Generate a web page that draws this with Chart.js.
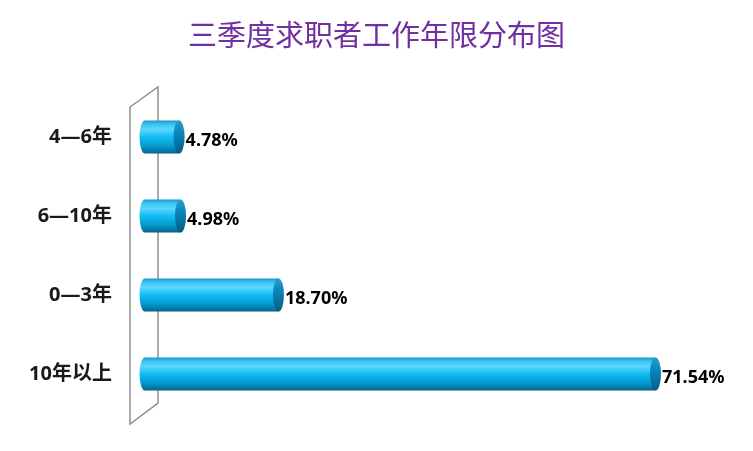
<!DOCTYPE html>
<html><head><meta charset="utf-8">
<script src="https://cdn.jsdelivr.net/npm/chart.js@4/dist/chart.umd.min.js"></script>
<style>html,body{margin:0;padding:0;background:#fff;}#wrap{width:753px;height:451px;}</style>
</head><body><div id="wrap"><canvas id="c" width="753" height="451"></canvas></div>
<script>
const categories = ['4—6年', '6—10年', '0—3年', '10年以上'];
const values = [4.78, 4.98, 18.70, 71.54];
const valueLabels = ['4.78%', '4.98%', '18.70%', '71.54%'];
const chartTitle = '三季度求职者工作年限分布图';

const BAR_FRAC = 0.42;

function cylGrad(ctx, top, h) {
  const g = ctx.createLinearGradient(0, top, 0, top + h);
  g.addColorStop(0, '#1a95c9');
  g.addColorStop(0.12, '#3cc4f2');
  g.addColorStop(0.28, '#5cd6ff');
  g.addColorStop(0.5, '#10bdf3');
  g.addColorStop(0.78, '#0398cf');
  g.addColorStop(0.94, '#05729c');
  g.addColorStop(1, '#0a5c7c');
  return g;
}
function capGrad(ctx, top, h) {
  const g = ctx.createLinearGradient(0, top, 0, top + h);
  g.addColorStop(0, '#2a9ccc');
  g.addColorStop(0.4, '#0a84b8');
  g.addColorStop(1, '#055c82');
  return g;
}

const cylinderPlugin = {
  id: 'cyl',
  beforeDatasetsDraw(chart) {
    const { ctx, chartArea } = chart;
    const { left, top, bottom } = chartArea;
    ctx.save();
    ctx.strokeStyle = '#8e8e8e';
    ctx.lineWidth = 1.5;
    ctx.beginPath();
    ctx.moveTo(left - 15, top + 9.5);
    ctx.lineTo(left + 13, top - 10.5);
    ctx.lineTo(left + 13, bottom - 10.5);
    ctx.lineTo(left - 15, bottom + 10.5);
    ctx.closePath();
    ctx.stroke();
    ctx.restore();
  },
  afterDatasetsDraw(chart) {
    const ctx = chart.ctx;
    const meta = chart.getDatasetMeta(0);
    meta.data.forEach((el, i) => {
      const { x, y, base, height } = el.getProps(['x', 'y', 'base', 'height'], true);
      const rx = 5.5, ry = height / 2;
      ctx.save();
      ctx.beginPath();
      ctx.ellipse(base, y, rx, ry, 0, Math.PI / 2, Math.PI * 1.5);
      ctx.closePath();
      ctx.fillStyle = cylGrad(ctx, y - ry, height);
      ctx.fill();
      ctx.beginPath();
      ctx.ellipse(x, y, rx, ry, 0, 0, Math.PI * 2);
      ctx.fillStyle = capGrad(ctx, y - ry, height);
      ctx.fill();
      ctx.font = 'bold 18px "Noto Sans", "Noto Sans CJK SC"';
      ctx.fillStyle = '#000';
      ctx.textBaseline = 'middle';
      ctx.textAlign = 'left';
      ctx.fillText(valueLabels[i], x + rx + 1, y + 4);
      ctx.restore();
    });
  }
};

new Chart(document.getElementById('c'), {
  type: 'bar',
  data: {
    labels: categories,
    datasets: [{
      data: values,
      borderWidth: 0,
      categoryPercentage: 1,
      barPercentage: BAR_FRAC,
      backgroundColor: (c) => {
        const chart = c.chart;
        const ys = chart.scales.y;
        if (!ys || c.dataIndex === undefined) return '#10bdf3';
        const yc = ys.getPixelForValue(c.dataIndex);
        const band = Math.abs(ys.getPixelForValue(1) - ys.getPixelForValue(0));
        const h = band * BAR_FRAC;
        if (!isFinite(yc) || !isFinite(h) || h <= 0) return '#10bdf3';
        return cylGrad(chart.ctx, yc - h / 2, h);
      }
    }]
  },
  options: {
    indexAxis: 'y',
    responsive: false,
    animation: false,
    events: [],
    layout: { padding: { top: 0, right: 0, bottom: 37.5, left: 0 } },
    plugins: {
      legend: { display: false },
      tooltip: { enabled: false },
      title: {
        display: true,
        text: chartTitle,
        color: '#7030A0',
        font: { family: '"Noto Sans CJK SC"', size: 29, weight: 'normal' },
        padding: { top: 17.6, bottom: 45.1 }
      }
    },
    scales: {
      x: { type: 'linear', min: 0, max: 85.2, display: false },
      y: {
        type: 'category',
        grid: { display: false, drawTicks: false },
        border: { display: false },
        ticks: {
          color: '#1a1a1a',
          padding: 33,
          font: { family: '"Noto Sans", "Noto Sans CJK SC"', size: 20, weight: 'bold' }
        },
        afterFit(scale) {
          scale.width = 145;
          scale.paddingTop = 0;
          scale.paddingBottom = 0;
        }
      }
    }
  },
  plugins: [cylinderPlugin]
});
</script>
</body></html>
